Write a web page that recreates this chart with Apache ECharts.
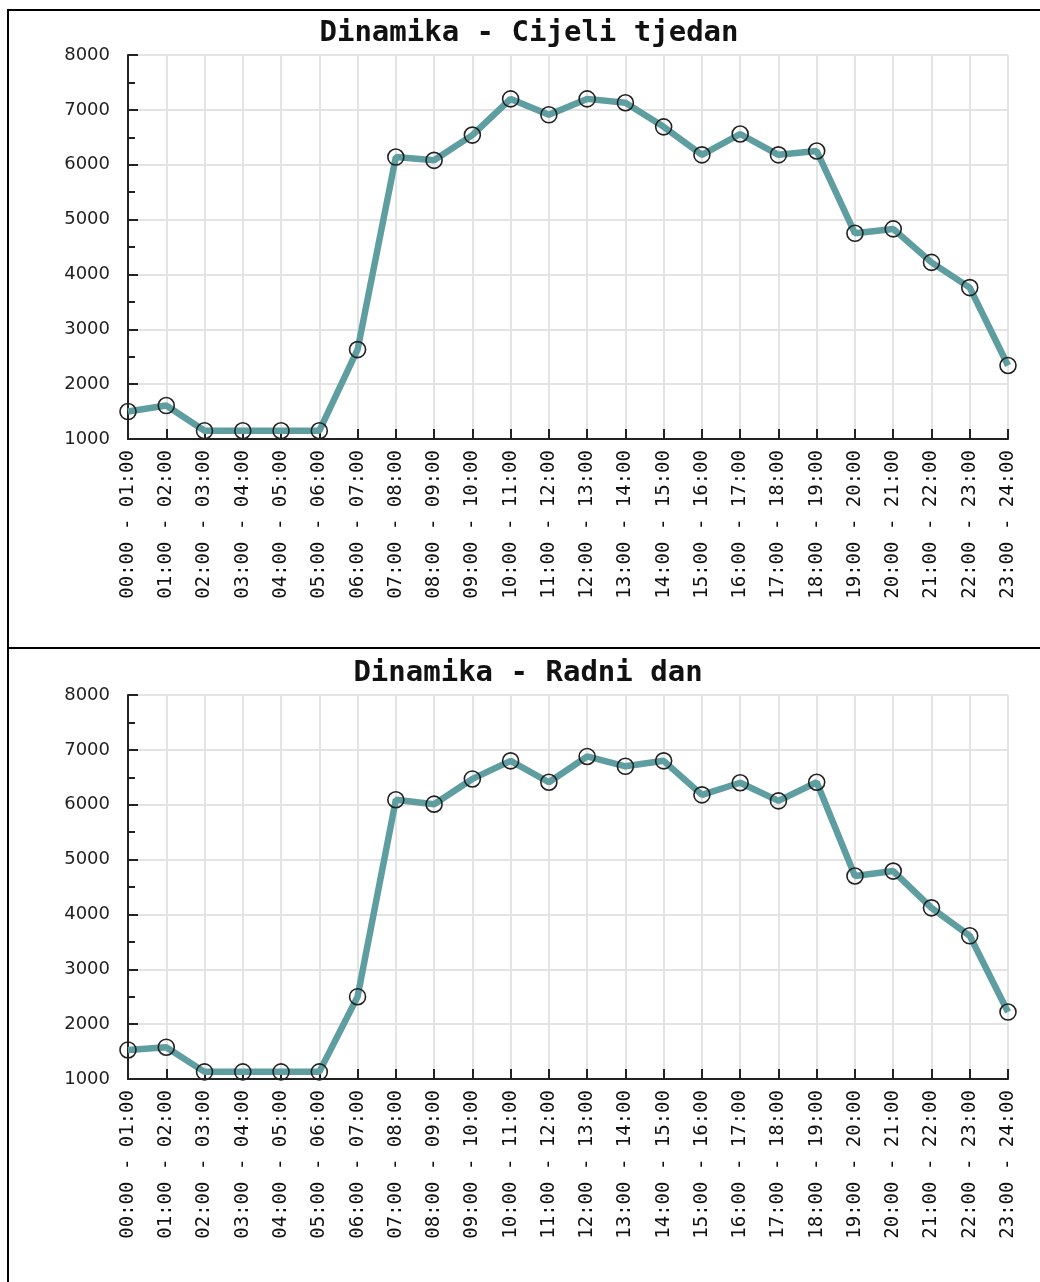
<!DOCTYPE html>
<html>
<head>
<meta charset="utf-8">
<script src="https://cdn.jsdelivr.net/npm/echarts@6/dist/echarts.min.js"></script>
<style>
html,body{margin:0;padding:0;background:#fff;}
#chart{width:1040px;height:1282px;}
</style>
</head>
<body>
<div id="chart"></div>
<script>
const categories = [
  "00:00 - 01:00","01:00 - 02:00","02:00 - 03:00","03:00 - 04:00","04:00 - 05:00","05:00 - 06:00",
  "06:00 - 07:00","07:00 - 08:00","08:00 - 09:00","09:00 - 10:00","10:00 - 11:00","11:00 - 12:00",
  "12:00 - 13:00","13:00 - 14:00","14:00 - 15:00","15:00 - 16:00","16:00 - 17:00","17:00 - 18:00",
  "18:00 - 19:00","19:00 - 20:00","20:00 - 21:00","21:00 - 22:00","22:00 - 23:00","23:00 - 24:00"
];
const titleWeek = "Dinamika - Cijeli tjedan";
const titleWorkday = "Dinamika - Radni dan";
const weekValues = [1500, 1610, 1150, 1150, 1150, 1150, 2630, 6140, 6080, 6540, 7200, 6910,
                    7200, 7130, 6690, 6180, 6560, 6180, 6250, 4750, 4830, 4220, 3760, 2340];
const workdayValues = [1530, 1580, 1130, 1130, 1130, 1130, 2500, 6090, 6010, 6470, 6800, 6410,
                       6880, 6700, 6800, 6180, 6400, 6070, 6410, 4700, 4790, 4120, 3610, 2220];
const yTicks = [1000, 2000, 3000, 4000, 5000, 6000, 7000, 8000];

const chart = echarts.init(document.getElementById('chart'), null, {renderer: 'canvas'});

const gridTops = [55, 695];
const axisColor = '#222';
const gridColor = '#e3e3e3';

function xAxis(i) {
  return {
    type: 'category', gridIndex: i, data: categories, boundaryGap: false,
    axisLine: {show: true, onZero: false, lineStyle: {color: axisColor, width: 2}},
    axisTick: {show: true, inside: true, length: 10, alignWithLabel: true, lineStyle: {color: axisColor, width: 2}},
    axisLabel: {show: true, interval: 0, rotate: 90, margin: 11, color: '#111',
      fontFamily: 'DejaVu Sans Mono', fontSize: 19},
    splitLine: {show: true, interval: 0, lineStyle: {color: gridColor, width: 2}}
  };
}
function yAxis(i) {
  return {
    type: 'value', gridIndex: i, min: yTicks[0], max: yTicks[yTicks.length - 1], interval: 1000,
    axisLine: {show: true, lineStyle: {color: axisColor, width: 2}},
    axisTick: {show: true, inside: true, length: 10, lineStyle: {color: axisColor, width: 2}},
    minorTick: {show: true, splitNumber: 2, length: 7, lineStyle: {color: axisColor, width: 2}},
    axisLabel: {show: true, margin: 18, color: '#222', fontFamily: 'DejaVu Sans', fontSize: 18,
      formatter: v => String(v)},
    splitLine: {show: true, lineStyle: {color: gridColor, width: 2}}
  };
}
function series(i, values) {
  return {
    type: 'line', xAxisIndex: i, yAxisIndex: i, data: values,
    symbol: 'circle', symbolSize: 16, showAllSymbol: true,
    lineStyle: {color: '#5f9ea0', width: 6.5},
    itemStyle: {color: 'rgba(255,255,255,0)', borderColor: '#222', borderWidth: 1.6},
    emphasis: {disabled: true},
    animation: false, z: 3
  };
}

chart.setOption({
  animation: false,
  backgroundColor: '#fff',
  grid: gridTops.map(t => ({left: 128, right: 32, top: t, height: 384, containLabel: false})),
  xAxis: [xAxis(0), xAxis(1)],
  yAxis: [yAxis(0), yAxis(1)],
  series: [series(0, weekValues), series(1, workdayValues)],
  graphic: [
    {type: 'rect', shape: {x: 8, y: 10, width: 1050, height: 638}, style: {fill: 'none', stroke: '#000', lineWidth: 2}, silent: true, z: 100},
    {type: 'rect', shape: {x: 8, y: 648, width: 1050, height: 700}, style: {fill: 'none', stroke: '#000', lineWidth: 2}, silent: true, z: 100},
    {type: 'text', style: {text: titleWeek, x: 529, y: 33, textAlign: 'center', textVerticalAlign: 'middle',
      font: 'bold 29px "DejaVu Sans Mono"', fill: '#111'}, silent: true},
    {type: 'text', style: {text: titleWorkday, x: 528, y: 673, textAlign: 'center', textVerticalAlign: 'middle',
      font: 'bold 29px "DejaVu Sans Mono"', fill: '#111'}, silent: true}
  ]
});
</script>
</body>
</html>
